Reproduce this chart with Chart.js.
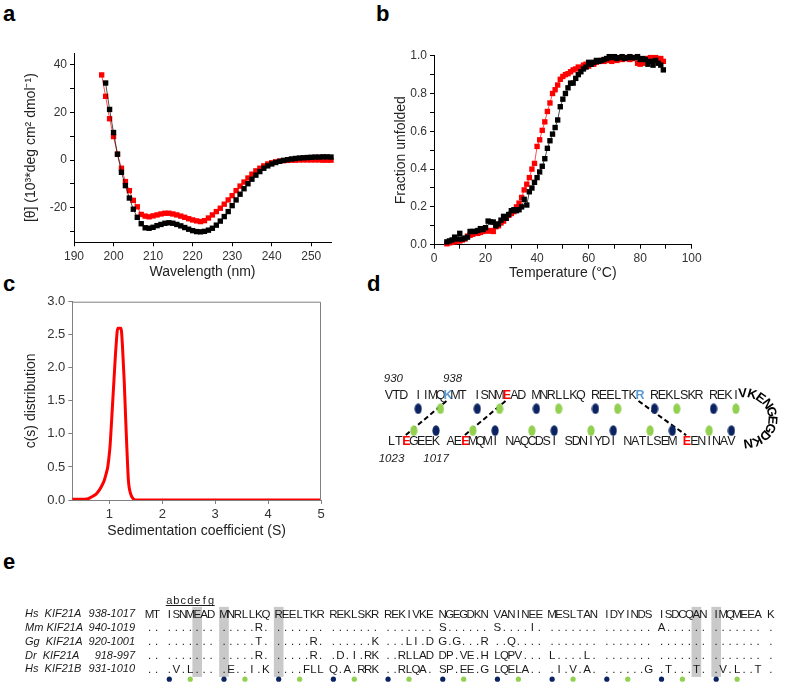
<!DOCTYPE html>
<html>
<head>
<meta charset="utf-8">
<script src="https://cdn.jsdelivr.net/npm/chart.js@4.4.0/dist/chart.umd.min.js"></script>
<style>
  body { margin: 0; background: #fff; width: 787px; height: 692px; position: relative; overflow: hidden; font-family: 'Liberation Sans', Arial, sans-serif; }
  canvas { position: absolute; }
  .panel { position: absolute; font-weight: bold; font-size: 22px; line-height: 1; color: #000; }
</style>
</head>
<body>
<div class="panel" style="left:3px;top:3px">a</div>
<div class="panel" style="left:376px;top:3px">b</div>
<div class="panel" style="left:3px;top:273px">c</div>
<div class="panel" style="left:367px;top:273px">d</div>
<div class="panel" style="left:3px;top:551px">e</div>

<canvas id="chartA" width="345" height="260" style="left:0;top:30px"></canvas>
<canvas id="chartB" width="407" height="260" style="left:380px;top:30px"></canvas>
<canvas id="chartC" width="345" height="260" style="left:0;top:280px"></canvas>
<canvas id="chartD" width="427" height="150" style="left:360px;top:340px"></canvas>
<canvas id="chartE" width="787" height="152" style="left:0;top:540px"></canvas>

<script>
// ---- a: CD spectra ----
const wavelengthRed = [197, 198, 199, 200, 201, 202, 203, 204, 205, 206, 207, 208, 209, 210, 211, 212, 213, 214, 215, 216,
  217, 218, 219, 220, 221, 222, 223, 224, 225, 226, 227, 228, 229, 230, 231, 232, 233, 234, 235, 236,
  237, 238, 239, 240, 241, 242, 243, 244, 245, 246, 247, 248, 249, 250, 251, 252, 253, 254, 255];
const ellipticityRed = [35.8, 26.8, 17.4, 9.9, 2.5, -3.4, -9.0, -12.8, -16.9, -19.6, -22.8, -23.5, -23.8, -23.4, -23.0, -22.6, -22.3, -22.3, -22.6, -23.0,
  -23.5, -24.0, -24.6, -25.1, -25.5, -25.8, -25.4, -24.3, -23.0, -21.6, -20.2, -18.5, -16.7, -14.9, -12.8, -10.9, -9.2, -7.5, -5.9, -4.5,
  -3.4, -2.4, -1.6, -1.1, -0.7, -0.4, -0.2, -0.1, 0.0, 0.0, 0.1, 0.1, 0.1, 0.1, 0.1, 0.1, 0.0, 0.0, 0.0];
const wavelengthBlack = [198, 199, 200, 201, 202, 203, 204, 205, 206, 207, 208, 209, 210, 211, 212, 213, 214, 215, 216,
  217, 218, 219, 220, 221, 222, 223, 224, 225, 226, 227, 228, 229, 230, 231, 232, 233, 234, 235, 236,
  237, 238, 239, 240, 241, 242, 243, 244, 245, 246, 247, 248, 249, 250, 251, 252, 253, 254, 255];
const ellipticityBlack = [32.4, 21.3, 11.6, 2.5, -5.1, -10.7, -15.9, -20.6, -24.0, -26.7, -28.4, -28.6, -28.2, -27.5, -27.0, -26.5, -26.3, -26.5, -27.0,
  -27.6, -28.3, -29.0, -29.6, -30.0, -30.1, -29.9, -29.4, -28.6, -27.3, -25.6, -23.7, -21.6, -19.1, -16.7, -14.3, -12.0, -9.9, -8.0, -6.3,
  -4.8, -3.4, -2.4, -1.6, -1.0, -0.5, -0.1, 0.2, 0.5, 0.7, 0.9, 1.0, 1.1, 1.2, 1.3, 1.3, 1.4, 1.4, 1.3];

// ---- b: thermal melt ----
const temperature = [5, 6, 7, 8, 9, 10, 11, 12, 13, 14, 15, 16, 17, 18, 19, 20, 21, 22, 23, 24,
  25, 26, 27, 28, 29, 30, 31, 32, 33, 34, 35, 36, 37, 38, 39, 40, 41, 42, 43, 44,
  45, 46, 47, 48, 49, 50, 51, 52, 53, 54, 55, 56, 57, 58, 59, 60, 61, 62, 63, 64,
  65, 66, 67, 68, 69, 70, 71, 72, 73, 74, 75, 76, 77, 78, 79, 80, 81, 82, 83, 84,
  85, 86, 87, 88, 89];
const unfoldedBlack = [0.015, 0.02, 0.025, 0.04, 0.03, 0.06, 0.03, 0.035, 0.04, 0.07,
  0.07, 0.07, 0.075, 0.085, 0.08, 0.09, 0.125, 0.12, 0.12, 0.10,
  0.11, 0.13, 0.15, 0.14, 0.16, 0.18, 0.185, 0.18, 0.185, 0.20,
  0.24, 0.21, 0.28, 0.30, 0.33, 0.355, 0.385, 0.415, 0.455, 0.51,
  0.55, 0.585, 0.62, 0.66, 0.73, 0.77, 0.80, 0.83, 0.855, 0.855,
  0.88, 0.90, 0.915, 0.93, 0.94, 0.965, 0.955, 0.965, 0.975, 0.97,
  0.975, 0.98, 0.985, 0.995, 0.99, 0.995, 0.985, 0.99, 0.995, 0.985,
  0.99, 0.995, 0.99, 0.99, 0.995, 0.98, 0.985, 0.98, 0.955, 0.97,
  0.95, 0.975, 0.96, 0.95, 0.925];
const unfoldedRed = [0.005, 0.01, 0.012, 0.015, 0.02, 0.02, 0.025, 0.03, 0.045, 0.05,
  0.055, 0.06, 0.06, 0.065, 0.07, 0.075, 0.072, 0.075, 0.07, 0.095,
  0.10, 0.115, 0.125, 0.14, 0.155, 0.165, 0.175, 0.20, 0.22, 0.25,
  0.29, 0.32, 0.355, 0.40, 0.43, 0.52, 0.555, 0.605, 0.65, 0.705,
  0.75, 0.80, 0.82, 0.845, 0.875, 0.89, 0.90, 0.905, 0.915, 0.925,
  0.93, 0.94, 0.935, 0.95, 0.955, 0.945, 0.96, 0.955, 0.965, 0.97,
  0.975, 0.97, 0.98, 0.975, 0.97, 0.98, 0.975, 0.985, 0.98, 0.99,
  0.985, 0.98, 0.985, 0.99, 0.96, 0.955, 0.96, 0.975, 0.985, 0.99,
  0.985, 0.99, 0.98, 0.985, 0.97];

// ---- c: sedimentation velocity ----
const sedCoef = [0.3, 0.45, 0.6, 0.67, 0.75, 0.81, 0.86, 0.905, 0.94, 0.97, 1.0, 1.013, 1.05, 1.088, 1.126,
  1.16, 1.22, 1.25, 1.28, 1.31, 1.33, 1.36, 1.40, 1.45, 1.49, 2, 3, 4, 5];
const csDist = [0.01, 0.01, 0.02, 0.05, 0.09, 0.15, 0.22, 0.3, 0.4, 0.5, 0.7, 0.81, 1.3, 1.82, 2.32,
  2.6, 2.6, 2.3, 1.82, 1.2, 0.81, 0.3, 0.1, 0.02, 0, 0, 0, 0, 0];

// ---- d: hairpin (top strand left->right, bottom strand after the loop) ----
const dTop = ['VTD', 'IIMQKMT', 'ISNMEAD', 'MNRLLKQ', 'REELTKR', 'REKLSKR', 'REKI'];
const dBottom = ['LTEGEEK', 'AEEMQMI', 'NAQCDSI', 'SDNIYDI', 'NATLSEM', 'EENINAV'];
const dLoop = 'VKENGEGDKN';
const dTopBasic = [[1, 4], [4, 6]];            // [group, position]
const dTopAcidic = [[2, 4]];
const dBottomAcidic = [[0, 2], [1, 2], [5, 0]];
const dBridges = [[[1, 4], [0, 2]], [[2, 4], [1, 2]], [[4, 6], [5, 0]]];  // top -> bottom
const dTopNumbers = [[0, 0, '930'], [1, 4, '938']];
const dBottomNumbers = [[0, 0, '1023'], [0, 6, '1017']];
const dTopDots = { navy: 0, green: 3 };     // heptad positions a / d
const dBottomDots = { navy: 6, green: 3 };

// ---- e: alignment ----
const eNames = ['Hs  KIF21A', 'Mm KIF21A', 'Gg  KIF21A', 'Dr  KIF21A', 'Hs  KIF21B'];
const eRanges = ['938-1017', '940-1019', '920-1001', '918-997', '931-1010'];
const eRows = [
  'MT' + 'ISNMEAD' + 'MNRLLKQ' + 'REELTKR' + 'REKLSKR' + 'REKIVKE' + 'NGEGDKN' + 'VANINEE' + 'MESLTAN' + 'IDYINDS' + 'ISDCQAN' + 'IMQMEEA' + 'K',
  '..' + '.......' + '.....R.' + '.......' + '.......' + '.......' + 'S......' + 'S....I.' + '.......' + '.......' + 'A......' + '.......' + '.',
  '..' + '.......' + '.....T.' + '.....R.' + '......K' + '...LI.D' + 'G.G...R' + '..Q....' + '.......' + '.......' + '.......' + '.......' + '.',
  '..' + '.......' + '.....R.' + '.....R.' + '.D.I.RK' + '..RLLAD' + 'DP.VE.H' + 'LQPV...' + 'L....L.' + '.......' + '.......' + '.......' + '.',
  '..' + '.V.L...' + '.E..I.K' + '....FLL' + 'Q.A.RRK' + '..RLQA.' + 'SP.EE.G' + 'LQELA..' + '.I.V.A.' + '......G' + '.T...T.' + '.V.L..T' + '.'
];
const eHeptadLetters = 'abcdefg';
const eCoreA = [2, 9, 16, 23, 30, 37, 44, 51, 58, 65, 72];
const eCoreD = [5, 12, 19, 26, 33, 40, 47, 54, 61, 68, 75];
const eShaded = [6, 9, 16, 70, 72];

const FONT = "'Liberation Sans', Arial, sans-serif";
const NAVY = '#0b2461', GREEN = '#92d050', BLUE = '#5b9bd5', RED = '#ff0000';
Chart.defaults.font.family = FONT;
Chart.defaults.color = '#333';

const pts = (xs, ys) => xs.map((x, i) => ({ x: x, y: ys[i] }));

function squareSeries(xs, ys, color) {
  return {
    data: pts(xs, ys), showLine: true, borderColor: color, borderWidth: 0.7,
    pointStyle: 'rect', pointRadius: 3.8, pointBackgroundColor: color, pointBorderWidth: 0, clip: false
  };
}

function axis(min, max, step, labelFn, title, titlePad, fitSize, horizontal, lineColor, tickSize) {
  return {
    type: 'linear', min: min, max: max,
    grid: { display: true, drawOnChartArea: false, tickLength: 4, color: lineColor },
    border: { display: true, color: lineColor, width: 1 },
    ticks: { stepSize: step, includeBounds: false, padding: 3, color: '#333', font: { size: tickSize }, maxRotation: 0, autoSkip: false, callback: labelFn },
    title: { display: true, text: title, color: '#222', font: { size: 14 }, padding: titlePad },
    afterFit: horizontal ? (s => { s.height = fitSize; }) : (s => { s.width = fitSize; })
  };
}

const baseOpts = { responsive: false, animation: false, events: [], plugins: { legend: { display: false }, tooltip: { enabled: false } } };

// a
new Chart(document.getElementById('chartA'), {
  type: 'scatter',
  data: { datasets: [squareSeries(wavelengthBlack, ellipticityBlack, '#000'), squareSeries(wavelengthRed, ellipticityRed, RED)] },
  options: Object.assign({}, baseOpts, {
    layout: { padding: { top: 23, right: 14, left: 0, bottom: 0 } },
    scales: {
      x: axis(190, 255, 10, v => v, 'Wavelength (nm)', { top: 0, bottom: 9 }, 47.7, true, '#000', 12),
      y: axis(-34.5, 45, 10, v => (v % 20 === 0 ? v : ''), '[θ] (10³*deg cm² dmol⁻¹)', { top: 22.6, bottom: 0 }, 74, false, '#000', 12)
    }
  })
});

// b
new Chart(document.getElementById('chartB'), {
  type: 'scatter',
  data: { datasets: [squareSeries(temperature, unfoldedBlack, '#000'), squareSeries(temperature, unfoldedRed, RED)] },
  options: Object.assign({}, baseOpts, {
    layout: { padding: { top: 25.7, right: 95.3, left: 0, bottom: 0 } },
    scales: {
      x: axis(0, 100, 10, v => (v % 20 === 0 ? v : ''), 'Temperature (°C)', { top: 0, bottom: 8.3 }, 45.3, true, '#000', 12),
      y: axis(0, 1, 0.1, v => (Math.round(v * 10) % 2 === 0 ? v.toFixed(1) : ''), 'Fraction unfolded', { top: 12.6, bottom: 0 }, 54, false, '#000', 12)
    }
  })
});

// c
const boxPlugin = {
  id: 'box',
  afterDraw(chart) {
    const { ctx, chartArea: a } = chart;
    ctx.save();
    ctx.strokeStyle = '#808080';
    ctx.lineWidth = 1;
    ctx.beginPath();
    ctx.moveTo(a.left, a.top + 0.5); ctx.lineTo(a.right - 0.5, a.top + 0.5); ctx.lineTo(a.right - 0.5, a.bottom);
    ctx.stroke();
    ctx.restore();
  }
};
new Chart(document.getElementById('chartC'), {
  type: 'scatter',
  data: { datasets: [{
    data: pts(sedCoef, csDist), showLine: true, borderColor: RED, borderWidth: 3, pointRadius: 0, cubicInterpolationMode: 'monotone'
  }] },
  options: Object.assign({}, baseOpts, {
    layout: { padding: { top: 21.7, right: 24, left: 0, bottom: 0 } },
    scales: {
      x: axis(0.3, 5, 1, v => v, 'Sedimentation coefficient (S)', { top: 0, bottom: 0 }, 40, true, '#808080', 13),
      y: axis(0, 3, 0.5, v => v.toFixed(1), 'c(s) distribution', { top: 22.6, bottom: 0 }, 72.3, false, '#808080', 13)
    }
  }),
  plugins: [boxPlugin]
});

// d
const D_PERIOD = 7.96, D_SHIFT = -3.6;
const ROW_TOP = 0, ROW_BOTTOM = 1, ROW_TOP_DOT = 0.29, ROW_BOTTOM_DOT = 0.765;
const dTopU = (g, p) => (g - 1) * D_PERIOD + p + (g === 0 ? 7 - dTop[0].length : 0);
const dBottomU = (k, p) => k * D_PERIOD + p + D_SHIFT;

function ellipseDot(color) {
  const c = document.createElement('canvas');
  c.width = 8; c.height = 11;
  const g = c.getContext('2d');
  g.fillStyle = color;
  g.beginPath(); g.ellipse(4, 5.5, 3.6, 5.2, 0, 0, Math.PI * 2); g.fill();
  return c;
}
const dNavy = [], dGreen = [];
dTop.forEach((grp, g) => {
  if (g === 0) return;
  dNavy.push({ x: dTopU(g, dTopDots.navy), y: ROW_TOP_DOT });
  dGreen.push({ x: dTopU(g, dTopDots.green), y: ROW_TOP_DOT });
});
dBottom.forEach((grp, k) => {
  dNavy.push({ x: dBottomU(k, dBottomDots.navy), y: ROW_BOTTOM_DOT });
  dGreen.push({ x: dBottomU(k, dBottomDots.green), y: ROW_BOTTOM_DOT });
});
const bridgeSets = dBridges.map(([t, b]) => ({
  data: [{ x: dTopU(t[0], t[1]) - 0.2, y: 0.122 }, { x: dBottomU(b[0], b[1]) - 0.1, y: 0.866 }],
  showLine: true, borderColor: '#000', borderWidth: 2, borderDash: [5, 3], pointRadius: 0
}));

const hairpinText = {
  id: 'hairpinText',
  afterDatasetsDraw(chart) {
    const { ctx, scales: { x, y } } = chart;
    ctx.save();
    ctx.textBaseline = 'middle';
    ctx.textAlign = 'center';
    const has = (list, g, p) => list.some(m => m[0] === g && m[1] === p);
    const strand = (groups, uOf, row, basic, acidic) => {
      groups.forEach((grp, g) => {
        [...grp].forEach((ch, p) => {
          let color = '#1a1a1a', weight = '';
          if (has(basic, g, p)) { color = BLUE; weight = 'bold '; }
          if (has(acidic, g, p)) { color = RED; weight = 'bold '; }
          ctx.font = weight + '12.5px ' + FONT;
          ctx.fillStyle = color;
          ctx.fillText(ch, x.getPixelForValue(uOf(g, p)), y.getPixelForValue(row));
        });
      });
    };
    strand(dTop, dTopU, ROW_TOP, dTopBasic, dTopAcidic);
    strand(dBottom, dBottomU, ROW_BOTTOM, [], dBottomAcidic);

    ctx.font = 'italic 11.5px ' + FONT;
    ctx.fillStyle = '#222';
    ctx.textAlign = 'left';
    dTopNumbers.forEach(([g, p, t]) => ctx.fillText(t, x.getPixelForValue(dTopU(g, p)) - 5, y.getPixelForValue(-0.365)));
    ctx.textAlign = 'center';
    dBottomNumbers.forEach(([k, p, t]) => ctx.fillText(t, x.getPixelForValue(dBottomU(k, p)), y.getPixelForValue(1.373)));

    // loop residues around the turn
    const cx = x.getPixelForValue(43.9), cy = y.getPixelForValue(0.5);
    ctx.font = 'bold 13px ' + FONT;
    ctx.fillStyle = '#000';
    [...dLoop].forEach((ch, i) => {
      const a = (-93 + i * 19.4) * Math.PI / 180;
      ctx.save();
      ctx.translate(cx + 28 * Math.cos(a), cy + 24.7 * Math.sin(a));
      ctx.rotate(a + Math.PI / 2);
      ctx.fillText(ch, 0, 0);
      ctx.restore();
    });
    ctx.restore();
  }
};

new Chart(document.getElementById('chartD'), {
  type: 'scatter',
  data: { datasets: [
    { data: dNavy, pointStyle: ellipseDot(NAVY), pointRadius: 4 },
    { data: dGreen, pointStyle: ellipseDot(GREEN), pointRadius: 4 }
  ].concat(bridgeSets) },
  options: Object.assign({}, baseOpts, {
    layout: { padding: 0 },
    scales: {
      x: { type: 'linear', display: false, min: -7.171, max: 49.013 },
      y: { type: 'linear', display: false, reverse: true, min: -1.0953, max: 1.9473 }
    }
  }),
  plugins: [hairpinText]
});

// e
const E_GAP = 0.837;
const ePos = i => i + (i < 2 ? 0 : 1 + Math.floor((i - 2) / 7)) * E_GAP;
const E_DOT_ROW = 4.717, E_BAR_TOP = -0.524, E_BAR_BOTTOM = 4.53;

const alignText = {
  id: 'alignText',
  afterDatasetsDraw(chart) {
    const { ctx, scales: { x, y } } = chart;
    ctx.save();
    ctx.textBaseline = 'middle';
    ctx.fillStyle = '#1a1a1a';
    ctx.font = 'italic 11px ' + FONT;
    eNames.forEach((name, r) => {
      ctx.textAlign = 'left';
      ctx.fillText(name, 25, y.getPixelForValue(r));
      ctx.textAlign = 'right';
      ctx.fillText(eRanges[r], 135, y.getPixelForValue(r));
    });
    ctx.textAlign = 'center';
    ctx.font = '11.5px ' + FONT;
    eRows.forEach((seq, r) => {
      [...seq].forEach((ch, i) => ctx.fillText(ch, x.getPixelForValue(ePos(i)), y.getPixelForValue(r)));
    });
    ctx.font = '11px ' + FONT;
    [...eHeptadLetters].forEach((ch, j) => ctx.fillText(ch, x.getPixelForValue(ePos(eCoreA[0] + j)), y.getPixelForValue(-1.0)));
    const uy = Math.round(y.getPixelForValue(-0.71)) + 0.5;
    ctx.strokeStyle = '#1a1a1a';
    ctx.lineWidth = 1.2;
    ctx.beginPath();
    ctx.moveTo(x.getPixelForValue(ePos(eCoreA[0]) - 0.5), uy);
    ctx.lineTo(x.getPixelForValue(ePos(eCoreA[0] + 6) + 0.5), uy);
    ctx.stroke();
    ctx.restore();
  }
};

new Chart(document.getElementById('chartE'), {
  type: 'scatter',
  data: { datasets: [
    { type: 'bar', data: eShaded.map(i => ({ x: ePos(i), y: [E_BAR_TOP, E_BAR_BOTTOM] })), backgroundColor: '#c9c9c9', barThickness: 9, borderWidth: 0, order: 3 },
    { data: eCoreA.map(i => ({ x: ePos(i), y: E_DOT_ROW })), pointStyle: 'circle', pointRadius: 2.6, pointBackgroundColor: NAVY, pointBorderWidth: 0, order: 1 },
    { data: eCoreD.map(i => ({ x: ePos(i), y: E_DOT_ROW })), pointStyle: 'circle', pointRadius: 2.6, pointBackgroundColor: GREEN, pointBorderWidth: 0, order: 1 }
  ] },
  options: Object.assign({}, baseOpts, {
    layout: { padding: 0 },
    scales: {
      x: { type: 'linear', display: false, min: -20.85, max: 90.78, offset: false },
      y: { type: 'linear', display: false, reverse: true, min: -5.124, max: 5.359 }
    }
  }),
  plugins: [alignText]
});
</script>
</body>
</html>
